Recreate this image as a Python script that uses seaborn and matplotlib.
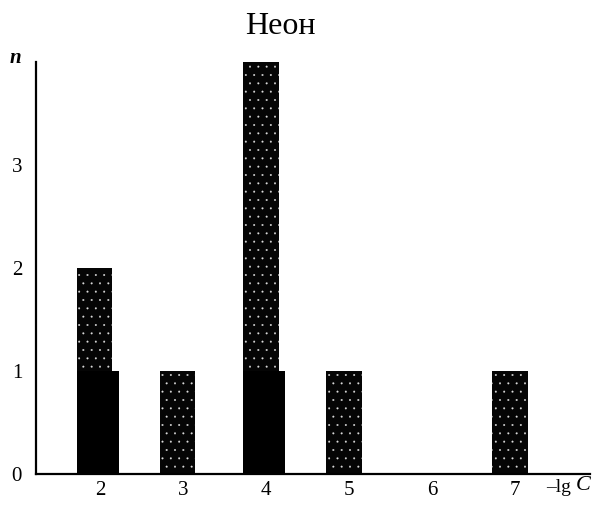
import matplotlib
matplotlib.use("Agg")
import matplotlib.pyplot as plt
import seaborn as sns
import pandas as pd

# Distribution of n over -lg C for neon
lg_c_dotted = [2, 3, 4, 5, 7]
n_dotted = [2, 1, 4, 1, 1]
lg_c_solid = [2, 4]
n_solid = [1, 1]
x_ticks = [2, 3, 4, 5, 6, 7]
y_ticks = [0, 1, 2, 3]
title = "Неон"

sns.set_theme(style="white")
plt.rcParams["font.family"] = ["Liberation Serif", "DejaVu Serif"]
plt.rcParams["hatch.linewidth"] = 0.2

fig = plt.figure(figsize=(5.95, 5.05), dpi=100)
ax = fig.add_axes([36 / 595, 31 / 505, (590 - 36) / 595, (474 - 62) / 505])

df_dot = pd.DataFrame({"x": lg_c_dotted, "n": n_dotted})
df_sol = pd.DataFrame({"x": lg_c_solid, "n": n_solid})

sns.barplot(data=df_dot, x="x", y="n", native_scale=True, errorbar=None,
            color="black", saturation=1, ax=ax)
n_dot_patches = len(ax.patches)
sns.barplot(data=df_sol, x="x", y="n", native_scale=True, errorbar=None,
            color="black", saturation=1, ax=ax)

for i, p in enumerate(ax.patches):
    c = p.get_x() + p.get_width() / 2
    if i < n_dot_patches:
        p.set_x(c - 0.28)
        p.set_width(0.43)
        p.set_facecolor("#050505")
        p.set_edgecolor("#dddddd")
        p.set_hatch("..")
        p.set_linewidth(0)
        p.set_zorder(2)
    else:
        p.set_x(c - 0.28)
        p.set_width(0.51)
        p.set_facecolor("black")
        p.set_edgecolor("black")
        p.set_linewidth(0)
        p.set_zorder(3)

ax.set_xlim(1.23, 7.9)
ax.set_ylim(0, 4)
ax.set_xticks(x_ticks)
ax.set_xticklabels([str(v) for v in x_ticks])
ax.set_yticks(y_ticks)
ax.set_yticklabels([str(v) for v in y_ticks])
ax.tick_params(axis="both", direction="in", length=9, width=1.4,
               labelsize=15, colors="black")
ax.tick_params(axis="x", pad=5)
ax.tick_params(axis="y", pad=10)
ax.set_xlabel("")
ax.set_ylabel("")

for side in ("top", "right"):
    ax.spines[side].set_visible(False)
for side in ("left", "bottom"):
    ax.spines[side].set_color("black")
    ax.spines[side].set_linewidth(1.6)
    ax.spines[side].set_zorder(4)

fig.text(280 / 595, 1 - 27 / 505, title, ha="center", va="center",
         fontsize=23, color="black")
fig.text(15 / 595, 1 - 58 / 505, "n", ha="center", va="center",
         fontsize=15, style="italic", fontweight="bold", color="black")
fig.text(546 / 595, 1 - 487 / 505, "–lg", ha="left", va="center",
         fontsize=14, color="black")
fig.text(576 / 595, 1 - 485 / 505, "C", ha="left", va="center",
         fontsize=16, style="italic", color="black")

fig.savefig("out.png", dpi=100)
